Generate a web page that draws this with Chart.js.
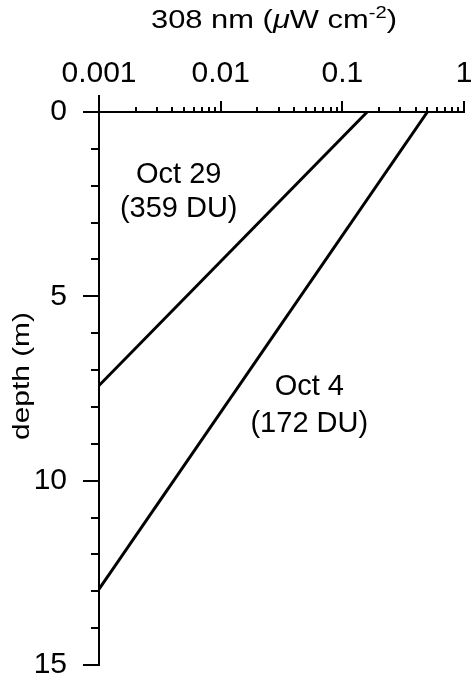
<!DOCTYPE html>
<html><head><meta charset="utf-8">
<script src="https://cdn.jsdelivr.net/npm/chart.js@4"></script>
<style>html,body{margin:0;padding:0;background:#fff;}#wrap{width:472px;height:679px;}</style>
</head><body><div id="wrap"><canvas id="c" width="472" height="679"></canvas></div>
<script>
// ---- data ----
const xTickValues = [0.001, 0.01, 0.1, 1];
const xTickLabels = ['0.001', '0.01', '0.1', '1'];
const yTickValues = [0, 5, 10, 15];
const seriesNames = ['Oct 29', 'Oct 4'];
const oct29Irradiance = [0.16, 0.001];
const oct29Depth = [0, 7.42];
const oct4Irradiance = [0.50, 0.001];
const oct4Depth = [0, 12.94];
const oct29Label = ['Oct 29', '(359 DU)'];
const oct4Label = ['Oct 4', '(172 DU)'];
const xTitle = ['308 nm (', 'μ', 'W cm', '-2', ')'];
const yTitle = 'depth (m)';

const FONT = '"Liberation Sans", Arial, Helvetica, sans-serif';
const toPoints = (xs, ys) => xs.map((v, i) => ({x: v, y: ys[i]}));

const isDecade = v => Math.abs(Math.log10(v) - Math.round(Math.log10(v))) < 1e-9;

const decor = {
  id: 'decor',
  afterDraw(chart) {
    const {ctx, chartArea: a, scales: {x, y}} = chart;
    ctx.save();
    ctx.strokeStyle = '#000';
    ctx.fillStyle = '#000';
    ctx.lineWidth = 2;
    // top axis tick marks (outside, pointing up)
    for (let e = -3; e <= 0; e++) {
      for (let m = 1; m <= 9; m++) {
        const v = m * Math.pow(10, e);
        if (v > 1.0000001) break;
        const px = Math.round(x.getPixelForValue(v)) ;
        let len = m === 1 ? 11 : 5;
        if (e === -3 && m === 1) len = 17;
        ctx.beginPath();
        ctx.moveTo(px, a.top);
        ctx.lineTo(px, a.top - len);
        ctx.stroke();
      }
    }
    // left axis tick marks (outside, pointing left)
    for (let d = 0; d <= 15; d++) {
      const py = Math.round(y.getPixelForValue(d));
      const len = yTickValues.includes(d) ? 16 : 8;
      ctx.beginPath();
      ctx.moveTo(a.left + 1, py);
      ctx.lineTo(a.left - len, py);
      ctx.stroke();
    }
    // annotations placed in data coordinates
    ctx.font = '29px ' + FONT;
    ctx.textAlign = 'center';
    ctx.textBaseline = 'alphabetic';
    const notes = [
      [oct29Label[0], 0.00452, 1.93],
      [oct29Label[1], 0.00452, 2.85],
      [oct4Label[0], 0.0535, 7.68],
      [oct4Label[1], 0.0535, 8.68]
    ];
    notes.forEach(([t, vx, vy]) => ctx.fillText(t, x.getPixelForValue(vx), y.getPixelForValue(vy)));

    // x title with italic mu and superscript
    const base = 26;
    const parts = [
      {t: xTitle[0], f: base + 'px ' + FONT, dy: 0},
      {t: xTitle[1], f: 'italic ' + base + 'px ' + FONT, dy: 0},
      {t: xTitle[2], f: base + 'px ' + FONT, dy: 0},
      {t: xTitle[3], f: '17px ' + FONT, dy: -10},
      {t: xTitle[4], f: base + 'px ' + FONT, dy: 0}
    ];
    let w = 0;
    parts.forEach(p => { ctx.font = p.f; p.w = ctx.measureText(p.t).width; w += p.w; });
    const target = 246;
    ctx.save();
    ctx.translate(151, 27.5);
    ctx.scale(target / w, 1);
    ctx.textAlign = 'left';
    let cx = 0;
    parts.forEach(p => { ctx.font = p.f; ctx.fillText(p.t, cx, p.dy); cx += p.w; });
    ctx.restore();

    // y title, rotated
    ctx.save();
    ctx.font = '24px ' + FONT;
    const yw = ctx.measureText(yTitle).width;
    ctx.translate(22.5, 376);
    ctx.rotate(-Math.PI / 2);
    ctx.scale(128 / yw, 1);
    ctx.textAlign = 'center';
    ctx.textBaseline = 'middle';
    ctx.fillText(yTitle, 0, 0);
    ctx.restore();

    ctx.restore();
  }
};

new Chart(document.getElementById('c'), {
  type: 'scatter',
  data: {
    datasets: [
      {label: seriesNames[0], data: toPoints(oct29Irradiance, oct29Depth)},
      {label: seriesNames[1], data: toPoints(oct4Irradiance, oct4Depth)}
    ].map(d => Object.assign(d, {showLine: true, pointRadius: 0, borderColor: '#000', borderWidth: 3, backgroundColor: '#000'}))
  },
  options: {
    responsive: false,
    animation: false,
    layout: {padding: {left: 0, top: 0, right: 8, bottom: 14}},
    plugins: {legend: {display: false}, tooltip: {enabled: false}},
    scales: {
      x: {
        type: 'logarithmic',
        position: 'top',
        min: 0.001,
        max: 1,
        grid: {display: false, drawTicks: false},
        border: {display: true, color: '#000', width: 2},
        afterFit: s => { s.height = 112; s.paddingLeft = 0; s.paddingRight = 0; },
        ticks: {
          autoSkip: false, maxRotation: 0, padding: 20, color: '#000',
          font: {family: FONT, size: 30, lineHeight: 1.2},
          callback: v => {
            if (!isDecade(v)) return '';
            const i = xTickValues.findIndex(t => Math.abs(Math.log10(t) - Math.log10(v)) < 1e-9);
            return i >= 0 ? xTickLabels[i] : '';
          }
        }
      },
      y: {
        type: 'linear',
        reverse: true,
        min: 0,
        max: 15,
        grid: {display: false, drawTicks: false},
        border: {display: true, color: '#000', width: 2},
        afterFit: s => { s.width = 99; s.paddingTop = 0; s.paddingBottom = 0; },
        afterBuildTicks: s => { s.ticks = yTickValues.map(v => ({value: v})); },
        ticks: {padding: 32, color: '#000', font: {family: FONT, size: 30, lineHeight: 1.0}}
      }
    }
  },
  plugins: [decor]
});
</script></body></html>
